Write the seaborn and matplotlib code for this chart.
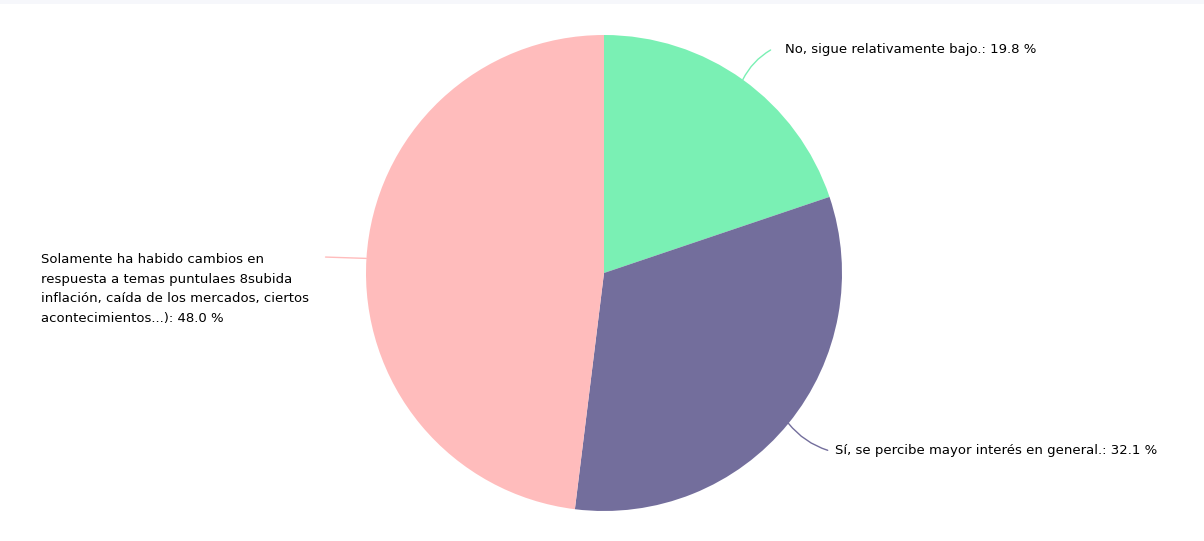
import numpy as np
import seaborn as sns
from matplotlib import pyplot as plt
from matplotlib.patches import Rectangle

labels = [
    "No, sigue relativamente bajo.",
    "Sí, se percibe mayor interés en general.",
    "Solamente ha habido cambios en\nrespuesta a temas puntulaes 8subida\ninflación, caída de los mercados, ciertos\nacontecimientos...)",
]
values = [19.8, 32.1, 48.0]
colors = ["#7af0b4", "#736e9c", "#ffbcbc"]

# label anchor (text x, text y, line end x, line end y, curve)
label_pos = [
    (0.76, 0.937, 0.70, 0.937, 0.15),
    (0.97, -0.745, 0.94, -0.745, -0.15),
    (-2.366, -0.068, -1.17, 0.067, 0.0),
]

sns.set_theme(style="white")
plt.rcParams["font.family"] = ["DejaVu Sans"]

W, H = 1204, 541
fig = plt.figure(figsize=(W / 100, H / 100), dpi=100)
fig.add_artist(Rectangle((0, 1 - 4 / H), 1, 4 / H, transform=fig.transFigure,
                         color="#f6f7fb", lw=0))
cx, cy, r = 604, 273, 238
ax = fig.add_axes([(cx - r) / W, (H - cy - r) / H, 2 * r / W, 2 * r / H])

wedges, _ = ax.pie(values, colors=colors, startangle=90, counterclock=False,
                   radius=1, wedgeprops=dict(linewidth=0))
ax.set_xlim(-1, 1)
ax.set_ylim(-1, 1)
ax.set_aspect("equal")

for w, name, v, (tx, ty, lx, ly, rad) in zip(wedges, labels, values, label_pos):
    ang = np.deg2rad((w.theta1 + w.theta2) / 2)
    px, py = np.cos(ang), np.sin(ang)
    ax.annotate("", xy=(px, py), xytext=(lx, ly),
                arrowprops=dict(arrowstyle="-", color=w.get_facecolor(), lw=1,
                                connectionstyle=f"arc3,rad={rad}",
                                shrinkA=0, shrinkB=0),
                annotation_clip=False)
    ax.text(tx, ty, f"{name}: {v:.1f} %", ha="left", va="center", fontsize=9.5,
            color="#000000", linespacing=1.65, clip_on=False)

fig.savefig("out.png", dpi=100)
